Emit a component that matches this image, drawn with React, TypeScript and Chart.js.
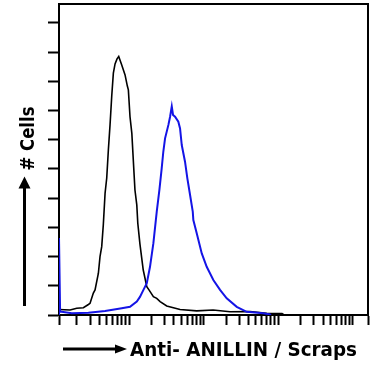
import React, { useEffect, useRef } from 'react';
import { Chart, registerables } from 'chart.js';

Chart.register(...registerables);

// Control (isotype / Scraps) histogram – black
const controlIntensity = [1.15, 1.62, 1.99, 2.44, 2.85, 3.0, 3.32, 3.5, 3.88, 4.08, 4.3, 4.52, 4.77, 5.02, 5.28, 5.56, 5.86, 6.16, 6.49, 6.9, 7.27, 7.98, 8.84, 9.49, 9.79, 10.3, 10.9, 11.4, 12.0, 12.7, 13.1, 14.0, 15.5, 17.3, 18.5, 21.2, 23.5, 26.1, 32.0, 48.3, 80.8, 134, 226, 419, 702, 1125, 1200];
const controlCount = [0.19, 0.17, 0.23, 0.25, 0.36, 0.40, 0.75, 0.86, 1.43, 2.0, 2.34, 3.10, 4.17, 4.69, 5.65, 6.51, 7.50, 8.28, 8.60, 8.77, 8.85, 8.56, 8.22, 7.84, 7.71, 6.79, 6.22, 5.31, 4.28, 3.77, 3.14, 2.43, 1.54, 0.97, 0.86, 0.63, 0.57, 0.46, 0.31, 0.19, 0.14, 0.17, 0.11, 0.12, 0.06, 0.05, 0];

// Anti-ANILLIN histogram – blue
const anillinIntensity = [1.15, 1.15, 1.19, 1.25, 1.71, 2.85, 4.77, 7.98, 10.3, 12.7, 14.0, 15.6, 17.3, 19.1, 21.2, 23.5, 25.5, 27.4, 28.8, 30.4, 33.7, 35.5, 37.4, 38.9, 41.4, 45.8, 48.3, 50.9, 56.3, 60.5, 65.8, 71.5, 72.8, 80.8, 94.4, 110, 135, 166, 204, 278, 378, 631, 776, 800];
const anillinCount = [0, 2.64, 0.11, 0.11, 0.06, 0.08, 0.14, 0.23, 0.28, 0.46, 0.62, 0.86, 1.09, 1.65, 2.46, 3.53, 4.28, 5.02, 5.59, 6.05, 6.51, 6.79, 7.14, 6.85, 6.79, 6.62, 6.39, 5.82, 5.25, 4.68, 4.11, 3.54, 3.25, 2.80, 2.11, 1.65, 1.20, 0.86, 0.57, 0.28, 0.11, 0.06, 0.02, 0];

const yTickValues = [0, 1, 2, 3, 4, 5, 6, 7, 8, 9, 10];
const xMin = 1.15;
const xMax = 16000;
const yMax = 10.65;
const xTitle = 'Anti- ANILLIN / Scraps';
const yTitle = '# Cells';

function xTickValues(): number[] {
  const v: number[] = [xMin];
  for (let e = 0; e <= 4; e++) {
    for (let m = 1; m <= 9; m++) {
      const t = m * Math.pow(10, e);
      if (t > xMin && t < xMax) v.push(t);
    }
  }
  v.push(xMax);
  return v;
}

const annotPlugin = {
  id: 'annot',
  afterDraw(chart: any) {
    const ctx = chart.ctx;
    ctx.save();
    ctx.fillStyle = '#000';
    ctx.strokeStyle = '#000';
    ctx.lineWidth = 3;
    // x arrow
    ctx.beginPath();
    ctx.moveTo(63, 349);
    ctx.lineTo(116, 349);
    ctx.stroke();
    ctx.beginPath();
    ctx.moveTo(127, 349);
    ctx.lineTo(115, 344.5);
    ctx.lineTo(115, 353.5);
    ctx.closePath();
    ctx.fill();
    // x title
    ctx.font = 'bold 19.5px "DejaVu Sans"';
    ctx.textAlign = 'left';
    ctx.textBaseline = 'alphabetic';
    ctx.fillText(xTitle, 130, 356, 227);
    // y arrow
    ctx.beginPath();
    ctx.moveTo(24.5, 306);
    ctx.lineTo(24.5, 187);
    ctx.stroke();
    ctx.beginPath();
    ctx.moveTo(24.5, 176.5);
    ctx.lineTo(18.5, 188.5);
    ctx.lineTo(30.5, 188.5);
    ctx.closePath();
    ctx.fill();
    // y title
    ctx.translate(33.5, 138.5);
    ctx.rotate(-Math.PI / 2);
    ctx.textAlign = 'center';
    ctx.font = 'bold 20px "DejaVu Sans"';
    ctx.fillText(yTitle, 0, 0, 64);
    ctx.restore();
  },
};

export default function App() {
  const ref = useRef<HTMLCanvasElement | null>(null);
  useEffect(() => {
    if (!ref.current) return;
    const tickGrid = {
      display: true,
      drawOnChartArea: false,
      drawTicks: true,
      tickWidth: 2,
      tickColor: '#000',
    };
    const chart = new Chart(ref.current, {
      type: 'line',
      data: {
        datasets: [
          {
            label: 'Anti- ANILLIN',
            data: anillinIntensity.map((x, i) => ({ x, y: anillinCount[i] })),
            borderColor: '#1414e6',
            borderWidth: 2,
            pointRadius: 0,
            tension: 0,
            fill: false,
            order: 0,
          },
          {
            label: 'Scraps',
            data: controlIntensity.map((x, i) => ({ x, y: controlCount[i] })),
            borderColor: '#000',
            borderWidth: 1.6,
            pointRadius: 0,
            tension: 0,
            fill: false,
            order: 1,
          },
        ],
      },
      options: {
        responsive: true,
        maintainAspectRatio: false,
        animation: false,
        layout: { padding: { left: 48, right: 7, top: 4, bottom: 45 } },
        plugins: { legend: { display: false }, tooltip: { enabled: false } },
        scales: {
          x: {
            type: 'logarithmic',
            position: 'bottom',
            min: xMin,
            max: xMax,
            afterBuildTicks: (s: any) => {
              s.ticks = xTickValues().map((v) => ({ value: v }));
            },
            ticks: { display: false },
            grid: { ...tickGrid, tickLength: 10 },
            border: { display: true, color: '#000', width: 2 },
          },
          y: {
            type: 'linear',
            position: 'left',
            min: 0,
            max: yMax,
            afterBuildTicks: (s: any) => {
              s.ticks = yTickValues.map((v) => ({ value: v }));
            },
            ticks: { display: false },
            grid: { ...tickGrid, tickLength: 11 },
            border: { display: true, color: '#000', width: 2 },
          },
          x2: {
            type: 'linear',
            position: 'top',
            display: true,
            ticks: { display: false },
            grid: { display: false, drawTicks: false },
            border: { display: true, color: '#000', width: 2 },
          },
          y2: {
            type: 'linear',
            position: 'right',
            display: true,
            ticks: { display: false },
            grid: { display: false, drawTicks: false },
            border: { display: true, color: '#000', width: 2 },
          },
        },
      } as any,
      plugins: [annotPlugin],
    });
    return () => chart.destroy();
  }, []);
  return (
    <div style={{ position: 'fixed', left: 0, top: 0, width: 375, height: 370, background: '#fff' }}>
      <canvas ref={ref} />
    </div>
  );
}
